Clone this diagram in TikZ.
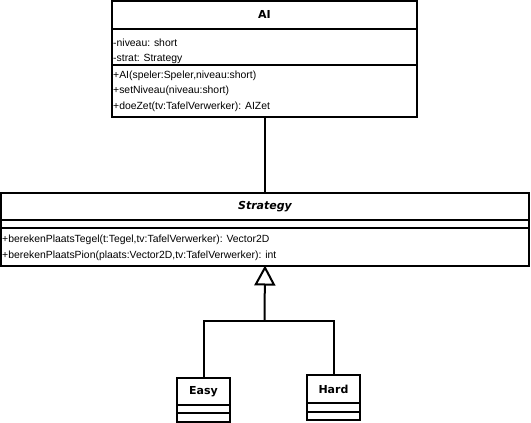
\documentclass[tikz,border=0pt]{standalone}
\usepackage{fontspec}
\setmainfont{Liberation Sans}
\newfontfamily\titlefont{DejaVu Sans}
\usetikzlibrary{arrows.meta}
\begin{document}
\begin{tikzpicture}[x=1pt,y=-1pt,
  comp/.style={draw, line width=2pt, anchor=north west, inner sep=0pt, outer sep=0pt},
  txt/.style={anchor=west, inner sep=0pt, font=\fontsize{10.4}{11}\selectfont},
  ttl/.style={inner sep=0pt, font=\titlefont\bfseries\fontsize{11}{12}\selectfont},
  conn/.style={line width=2pt}]
\useasboundingbox (0,0) rectangle (531,423);
% AI class
\node[comp, minimum width=305pt, minimum height=27.5pt] (aiT) at (112,1) {};
\node[comp, minimum width=305pt, minimum height=36pt] (aiA) at (112,28.5) {};
\node[comp, minimum width=305pt, minimum height=52.5pt] (aiM) at (112,64.5) {};
\node[ttl] (aiName) at (aiT.center) {AI};
\node[txt] (a1) at (113,43) {-niveau: short};
\node[txt] (a2) at (113,59) {-strat: Strategy};
\node[txt] (m1) at (113,75.5) {+AI(speler:Speler,niveau:short)};
\node[txt] (m2) at (113,91) {+setNiveau(niveau:short)};
\node[txt] (m3) at (113,107) {+doeZet(tv:TafelVerwerker): AIZet};
% Strategy class
\node[comp, minimum width=528pt, minimum height=26.5pt] (stT) at (1,193) {};
\node[comp, minimum width=528pt, minimum height=8.5pt] (stA) at (1,219.5) {};
\node[comp, minimum width=528pt, minimum height=37.5pt] (stM) at (1,228) {};
\node[ttl, font=\titlefont\bfseries\itshape\fontsize{11}{12}\selectfont] (stName) at (stT.center) {Strategy};
\node[txt] (s1) at (2,240) {+berekenPlaatsTegel(t:Tegel,tv:TafelVerwerker): Vector2D};
\node[txt] (s2) at (2,256) {+berekenPlaatsPion(plaats:Vector2D,tv:TafelVerwerker): int};
% Easy class
\node[comp, minimum width=53pt, minimum height=27pt] (eT) at (177,378) {};
\node[comp, minimum width=53pt, minimum height=8pt] (eA) at (177,405) {};
\node[comp, minimum width=53pt, minimum height=8.5pt] (eM) at (177,413) {};
\node[ttl] (eName) at (eT.center) {Easy};
% Hard class
\node[comp, minimum width=53pt, minimum height=28pt] (hT) at (307,375) {};
\node[comp, minimum width=53pt, minimum height=9pt] (hA) at (307,403) {};
\node[comp, minimum width=53pt, minimum height=8pt] (hM) at (307,412) {};
\node[ttl] (hName) at (hT.center) {Hard};
% connectors
\draw[conn] (aiM.south) -- (aiM.south |- stT.north);
\coordinate (j) at (264.5,321);
\draw[conn] (eT.north) |- (j) -| (hT.north);
\draw[conn, -{Triangle[open, length=20pt, width=21pt]}] (j) -- (stM.south);
\end{tikzpicture}
\end{document}
